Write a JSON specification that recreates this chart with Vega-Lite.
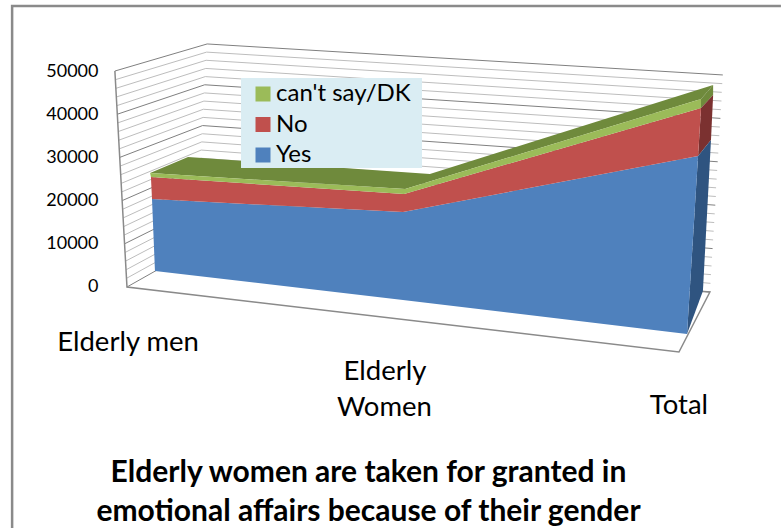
{"$schema":"https://vega.github.io/schema/vega-lite/v6.json","width":781,"height":528,"padding":0,"autosize":"none","background":"white","config":{"view":{"stroke":null},"font":"Lato"},
"title":{"text":["Elderly women are taken for granted in","emotional affairs because of their gender"],"orient":"bottom","anchor":"middle","frame":"group","offset":-75,"dx":-22,"baseline":"top","font":"Lato","fontSize":30,"fontWeight":"bold","color":"#000000","lineHeight":39},
"datasets":{
"grid":[
{"level":0,"pos":-0.093,"v":0},{"level":0,"pos":0.164,"v":9070},{"level":0,"pos":2.074,"v":-1163},
{"level":2000,"pos":-0.095,"v":2009},{"level":2000,"pos":0.165,"v":10968},{"level":2000,"pos":2.076,"v":856},
{"level":4000,"pos":-0.096,"v":4018},{"level":4000,"pos":0.167,"v":12866},{"level":4000,"pos":2.078,"v":2875},
{"level":6000,"pos":-0.098,"v":6027},{"level":6000,"pos":0.169,"v":14764},{"level":6000,"pos":2.08,"v":4894},
{"level":8000,"pos":-0.1,"v":8036},{"level":8000,"pos":0.17,"v":16662},{"level":8000,"pos":2.082,"v":6913},
{"level":10000,"pos":-0.102,"v":10045},{"level":10000,"pos":0.172,"v":18560},{"level":10000,"pos":2.084,"v":8932},
{"level":12000,"pos":-0.104,"v":12054},{"level":12000,"pos":0.173,"v":20458},{"level":12000,"pos":2.086,"v":10951},
{"level":14000,"pos":-0.105,"v":14063},{"level":14000,"pos":0.175,"v":22356},{"level":14000,"pos":2.088,"v":12970},
{"level":16000,"pos":-0.107,"v":16072},{"level":16000,"pos":0.177,"v":24254},{"level":16000,"pos":2.09,"v":14989},
{"level":18000,"pos":-0.109,"v":18081},{"level":18000,"pos":0.178,"v":26152},{"level":18000,"pos":2.092,"v":17008},
{"level":20000,"pos":-0.111,"v":20090},{"level":20000,"pos":0.18,"v":28050},{"level":20000,"pos":2.094,"v":19027},
{"level":22000,"pos":-0.113,"v":22099},{"level":22000,"pos":0.182,"v":29948},{"level":22000,"pos":2.096,"v":21046},
{"level":24000,"pos":-0.114,"v":24108},{"level":24000,"pos":0.183,"v":31846},{"level":24000,"pos":2.097,"v":23065},
{"level":26000,"pos":-0.116,"v":26117},{"level":26000,"pos":0.185,"v":33744},{"level":26000,"pos":2.099,"v":25084},
{"level":28000,"pos":-0.118,"v":28126},{"level":28000,"pos":0.187,"v":35642},{"level":28000,"pos":2.101,"v":27103},
{"level":30000,"pos":-0.12,"v":30135},{"level":30000,"pos":0.188,"v":37540},{"level":30000,"pos":2.103,"v":29122},
{"level":32000,"pos":-0.121,"v":32144},{"level":32000,"pos":0.19,"v":39438},{"level":32000,"pos":2.105,"v":31141},
{"level":34000,"pos":-0.123,"v":34153},{"level":34000,"pos":0.191,"v":41336},{"level":34000,"pos":2.107,"v":33160},
{"level":36000,"pos":-0.125,"v":36162},{"level":36000,"pos":0.193,"v":43234},{"level":36000,"pos":2.109,"v":35179},
{"level":38000,"pos":-0.127,"v":38171},{"level":38000,"pos":0.195,"v":45132},{"level":38000,"pos":2.111,"v":37198},
{"level":40000,"pos":-0.129,"v":40180},{"level":40000,"pos":0.196,"v":47030},{"level":40000,"pos":2.113,"v":39217},
{"level":42000,"pos":-0.13,"v":42189},{"level":42000,"pos":0.198,"v":48928},{"level":42000,"pos":2.115,"v":41236},
{"level":44000,"pos":-0.132,"v":44198},{"level":44000,"pos":0.2,"v":50826},{"level":44000,"pos":2.117,"v":43255},
{"level":46000,"pos":-0.134,"v":46207},{"level":46000,"pos":0.201,"v":52724},{"level":46000,"pos":2.118,"v":45274},
{"level":48000,"pos":-0.136,"v":48216},{"level":48000,"pos":0.203,"v":54622},{"level":48000,"pos":2.12,"v":47293},
{"level":50000,"pos":-0.138,"v":50225},{"level":50000,"pos":0.205,"v":56520},{"level":50000,"pos":2.122,"v":49312}
],
"edges":[
{"edge":"frame","ord":1,"pos":-0.52,"v":-56047},{"edge":"frame","ord":2,"pos":-0.52,"v":65349},{"edge":"frame","ord":3,"pos":2.338,"v":65349},
{"edge":"wall","ord":1,"pos":-0.138,"v":50225},{"edge":"wall","ord":2,"pos":-0.093,"v":0},{"edge":"wall","ord":3,"pos":1.959,"v":-15116},{"edge":"wall","ord":4,"pos":2.074,"v":-1163},{"edge":"wall","ord":5,"pos":2.022,"v":-930}
],
"sides":[
{"face":"top","ord":1,"pos":-0.007,"v":26512},{"face":"top","ord":2,"pos":0.134,"v":30233},{"face":"top","ord":3,"pos":1.033,"v":26279},{"face":"top","ord":4,"pos":2.086,"v":46977},{"face":"top","ord":5,"pos":2.041,"v":43721},{"face":"top","ord":6,"pos":0.941,"v":22791},
{"face":"side green","ord":1,"pos":2.041,"v":43721},{"face":"side green","ord":2,"pos":2.086,"v":46977},{"face":"side green","ord":3,"pos":2.086,"v":44651},{"face":"side green","ord":4,"pos":2.041,"v":41628},
{"face":"side red","ord":1,"pos":2.041,"v":41628},{"face":"side red","ord":2,"pos":2.086,"v":44651},{"face":"side red","ord":3,"pos":2.078,"v":34186},{"face":"side red","ord":4,"pos":2.03,"v":30465},
{"face":"side blue","ord":1,"pos":2.03,"v":30465},{"face":"side blue","ord":2,"pos":2.078,"v":34186},{"face":"side blue","ord":3,"pos":2.048,"v":-930},{"face":"side blue","ord":4,"pos":1.989,"v":-10930}
],
"fronts":[
{"series":"Yes","category":"Elderly men","ord":1,"pos":0,"v":20465},{"series":"Yes","category":"Elderly Women","ord":2,"pos":0.933,"v":17442},{"series":"Yes","category":"Total","ord":3,"pos":2.03,"v":30465},{"series":"Yes","category":"Total","ord":4,"pos":1.989,"v":-10930},{"series":"Yes","category":"Elderly Women","ord":5,"pos":0.933,"v":-3023},{"series":"Yes","category":"Elderly men","ord":6,"pos":0.011,"v":3721},
{"series":"No","category":"Elderly men","ord":1,"pos":-0.004,"v":25582},{"series":"No","category":"Elderly Women","ord":2,"pos":0.937,"v":21628},{"series":"No","category":"Total","ord":3,"pos":2.041,"v":41628},{"series":"No","category":"Total","ord":4,"pos":2.03,"v":30465},{"series":"No","category":"Elderly Women","ord":5,"pos":0.933,"v":17442},{"series":"No","category":"Elderly men","ord":6,"pos":0,"v":20465},
{"series":"can't say/DK","category":"Elderly men","ord":1,"pos":-0.007,"v":26512},{"series":"can't say/DK","category":"Elderly Women","ord":2,"pos":0.941,"v":22791},{"series":"can't say/DK","category":"Total","ord":3,"pos":2.041,"v":43721},{"series":"can't say/DK","category":"Total","ord":4,"pos":2.041,"v":41628},{"series":"can't say/DK","category":"Elderly Women","ord":5,"pos":0.937,"v":21628},{"series":"can't say/DK","category":"Elderly men","ord":6,"pos":-0.004,"v":25582}
],
"labels":[
{"label":"Elderly men","pos":-0.089,"v":-13000},{"label":"Elderly","pos":0.866,"v":-19735},{"label":"Women","pos":0.864,"v":-28107},{"label":"Total","pos":1.959,"v":-27642}
],
"legendBox":[{"pos":0.3309,"pos2":1.0037,"v":48605,"v2":27675}]
},
"encoding":{
"x":{"field":"pos","type":"quantitative","scale":{"domain":[-0.56506,2.33829],"nice":false,"zero":false},"axis":null},
"y":{"field":"v","type":"quantitative","scale":{"domain":[-56047,66744],"nice":false,"zero":false},"axis":{"values":[0,10000,20000,30000,40000,50000],"title":null,"grid":false,"domain":false,"ticks":false,"offset":-98,"labelPadding":0,"labelFont":"Lato","labelFontSize":18,"labelColor":"#000000","format":"d"}}
},
"layer":[
{"data":{"name":"grid"},"mark":{"type":"line","strokeWidth":1,"interpolate":"linear"},"encoding":{"detail":{"field":"level"},"color":{"condition":{"test":"datum.level % 10000 === 0","value":"#808080"},"value":"#bdbdbd"}}},
{"data":{"name":"edges"},"mark":{"type":"line","interpolate":"linear"},"encoding":{"detail":{"field":"edge"},"order":{"field":"ord"},"color":{"value":"#8a8a8a"},"strokeWidth":{"condition":{"test":"datum.edge === 'frame'","value":2.5},"value":1.5}}},
{"data":{"name":"sides"},"mark":{"type":"line","interpolate":"linear-closed","filled":true,"strokeWidth":0},"encoding":{"order":{"field":"ord"},"color":{"field":"face","type":"nominal","scale":{"domain":["top","side green","side red","side blue"],"range":["#6f8a3c","#6f8a3c","#7b3130","#2f5480"]},"legend":null}}},
{"data":{"name":"fronts"},"mark":{"type":"line","interpolate":"linear-closed","filled":true,"strokeWidth":0},"encoding":{"order":{"field":"ord"},"color":{"field":"series","type":"nominal","scale":{"domain":["can't say/DK","No","Yes"],"range":["#9bbb59","#c0504d","#4f81bd"]},"legend":{"title":null,"orient":"none","legendX":251,"legendY":82,"padding":0,"symbolType":"square","symbolSize":225,"symbolStrokeWidth":0,"symbolOpacity":1,"labelFont":"Lato","labelFontSize":24,"labelColor":"#000000","labelOffset":1,"rowPadding":6.5}}}},
{"data":{"name":"legendBox"},"mark":{"type":"rect","color":"#daedf3"},"encoding":{"x2":{"field":"pos2"},"y2":{"field":"v2"}}},
{"data":{"name":"labels"},"mark":{"type":"text","font":"Lato","fontSize":27.5,"color":"#000000","baseline":"middle","align":"center"},"encoding":{"text":{"field":"label"}}}
],
"resolve":{"scale":{"color":"independent"}}
}
